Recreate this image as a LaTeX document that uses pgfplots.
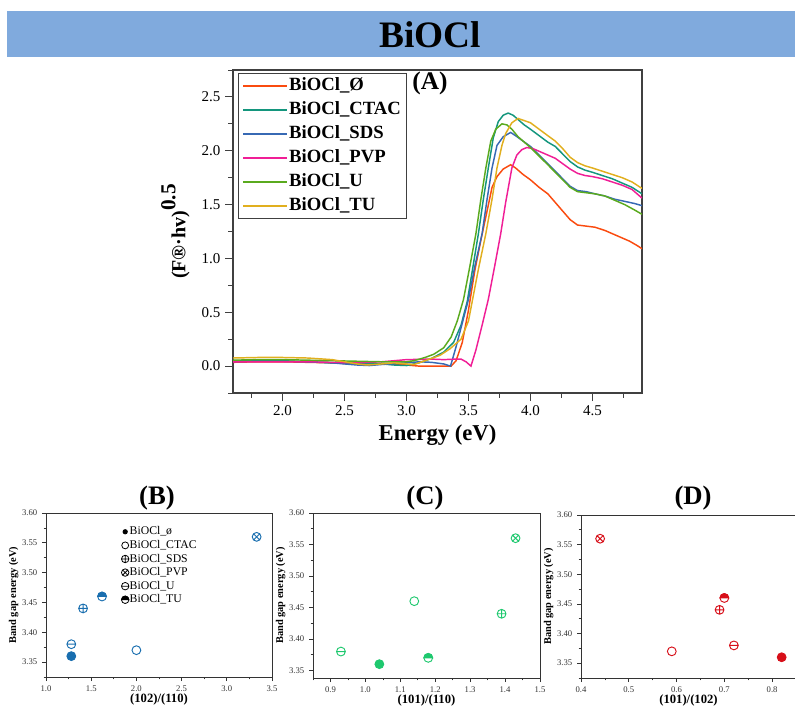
\documentclass[border=0pt]{standalone}
\usepackage{fontspec}
\setmainfont{Liberation Serif}
\usepackage{pgfplots}
\pgfplotsset{compat=1.18}
\usetikzlibrary{plotmarks}

\definecolor{banner}{RGB}{128,170,221}
\definecolor{cOr}{RGB}{250,75,15}
\definecolor{cTe}{RGB}{20,150,125}
\definecolor{cBl}{RGB}{55,105,180}
\definecolor{cPk}{RGB}{240,30,150}
\definecolor{cGr}{RGB}{90,170,30}
\definecolor{cGo}{RGB}{225,175,30}
\definecolor{bBlue}{RGB}{25,110,175}
\definecolor{cGreen}{RGB}{30,200,110}
\definecolor{dRed}{RGB}{215,15,25}

% circle with upper half filled
\pgfdeclareplotmark{tophalf}{%
  \pgfpathmoveto{\pgfqpoint{\pgfplotmarksize}{0pt}}%
  \pgfpatharc{0}{180}{\pgfplotmarksize}%
  \pgfpathclose
  \pgfusepathqfillstroke
  \pgfpathcircle{\pgfpointorigin}{\pgfplotmarksize}%
  \pgfusepathqstroke
}
% circle with horizontal bar
\pgfdeclareplotmark{ominus}{%
  \pgfpathcircle{\pgfpointorigin}{\pgfplotmarksize}%
  \pgfpathmoveto{\pgfqpoint{-\pgfplotmarksize}{0pt}}%
  \pgfpathlineto{\pgfqpoint{\pgfplotmarksize}{0pt}}%
  \pgfusepathqstroke
}

\pgfplotsset{
  small panel/.style={
    scale only axis,
    tick align=outside, tick pos=left,
    major tick length=3pt, minor tick length=1.8pt,
    axis line style={black!80, line width=0.6pt},
    every tick/.style={black!80, line width=0.5pt},
    ticklabel style={font=\fontsize{6.5}{7}\selectfont, text=black!80},
    /pgf/number format/assume math mode=true,
    ylabel={Band gap energy (eV)},
    ylabel style={font=\bfseries\fontsize{7.8}{9}\selectfont},
    ylabel shift=-4pt,
    xlabel style={font=\bfseries\fontsize{9.5}{11}\selectfont, yshift=5pt},
    ymax=3.60,
    ytick={3.35,3.40,3.45,3.50,3.55,3.60},
    minor ytick={3.325,3.375,3.425,3.475,3.525,3.575},
    yticklabel style={/pgf/number format/.cd, fixed, fixed zerofill, precision=2},
    xticklabel style={/pgf/number format/.cd, fixed, fixed zerofill, precision=1},
    every axis plot/.append style={only marks, line width=0.7pt, mark size=3.3pt},
  }
}

\begin{document}
\begin{tikzpicture}
\path[use as bounding box] (0,0) rectangle (596.25pt,-529.5pt);

\begin{scope}[x=0.75pt,y=-0.75pt]
  \fill[banner] (7,11) rectangle (800,57);
  \node[font=\bfseries\fontsize{28}{30}\selectfont] at (430,35) {BiOCl};
  \node[font=\bfseries\fontsize{19}{21}\selectfont] at (430,83) {(A)};
  \node[font=\bfseries\fontsize{20}{22}\selectfont] at (157,498) {(B)};
  \node[font=\bfseries\fontsize{20}{22}\selectfont] at (425,498) {(C)};
  \node[font=\bfseries\fontsize{20}{22}\selectfont] at (693,498) {(D)};
\end{scope}

% ---------------- panel A ----------------
\begin{axis}[
  at={(174.75pt,-294.75pt)}, anchor=south west,
  scale only axis, width=306.75pt, height=242.25pt,
  xmin=1.6, xmax=4.9, ymin=-0.25, ymax=2.75,
  xtick={2.0,2.5,3.0,3.5,4.0,4.5},
  ytick={0,0.5,1.0,1.5,2.0,2.5},
  minor xtick={1.75,2.25,2.75,3.25,3.75,4.25,4.75},
  minor ytick={-0.25,0.25,0.75,1.25,1.75,2.25,2.75},
  tick align=outside, tick pos=left,
  major tick length=6pt, minor tick length=3.5pt,
  axis line style={black!75, line width=0.8pt},
  every tick/.style={black!75, line width=0.7pt},
  ticklabel style={font=\fontsize{11.25}{13}\selectfont},
  /pgf/number format/assume math mode=true,
  xticklabel style={/pgf/number format/.cd, fixed, fixed zerofill, precision=1},
  yticklabel style={/pgf/number format/.cd, fixed, fixed zerofill, precision=1},
  xlabel={Energy (eV)},
  xlabel style={font=\bfseries\fontsize{17}{19}\selectfont},
  ylabel={(F®·hv)\raisebox{1.1ex}{\fontsize{16}{18}\selectfont 0.5}},
  ylabel style={font=\bfseries\fontsize{15}{17}\selectfont},
  ylabel shift=2pt,
  no markers,
  every axis plot/.append style={line width=1.1pt},
  legend cell align=left,
  legend style={at={(0.012,0.991)}, anchor=north west, draw=black!75, line width=0.8pt,
    font=\bfseries\fontsize{14}{16}\selectfont,
    nodes={inner sep=1pt, text height=10pt, text depth=3pt}, row sep=3pt,
    inner xsep=3pt, inner ysep=2pt},
  legend image code/.code={\draw[#1, line width=1.1pt] (0pt,0pt) -- (33pt,0pt);},
]
\addplot[cOr] coordinates {
(1.6,0.035) (1.8,0.04) (2.0,0.04) (2.2,0.035) (2.4,0.03) (2.6,0.02) (2.8,0.02)
(3.0,0.01) (3.1,0.0) (3.2,0.0) (3.3,0.0) (3.36,0.0) (3.40,0.05) (3.45,0.22)
(3.50,0.52) (3.55,0.88) (3.60,1.17) (3.65,1.44) (3.69,1.66) (3.73,1.76)
(3.78,1.83) (3.84,1.87) (3.88,1.84) (3.94,1.78) (4.0,1.73) (4.07,1.66)
(4.14,1.60) (4.2,1.52) (4.26,1.44) (4.32,1.36) (4.38,1.31) (4.45,1.30)
(4.52,1.29) (4.6,1.26) (4.66,1.23) (4.72,1.20) (4.8,1.16) (4.86,1.12) (4.9,1.09)};
\addplot[cTe] coordinates {
(1.6,0.05) (1.8,0.055) (2.0,0.05) (2.2,0.04) (2.4,0.03) (2.6,0.02) (2.8,0.02)
(2.9,0.01) (3.0,0.005) (3.1,0.03) (3.2,0.07) (3.3,0.13) (3.38,0.22) (3.44,0.38)
(3.49,0.60) (3.54,0.95) (3.58,1.23) (3.62,1.55) (3.66,1.84) (3.70,2.12)
(3.74,2.27) (3.78,2.33) (3.82,2.35) (3.86,2.33) (3.9,2.29) (3.95,2.24)
(4.0,2.20) (4.07,2.14) (4.14,2.08) (4.2,2.04) (4.26,1.97) (4.32,1.90)
(4.38,1.85) (4.44,1.82) (4.5,1.80) (4.58,1.77) (4.66,1.74) (4.74,1.70)
(4.82,1.66) (4.9,1.60)};
\addplot[cBl] coordinates {
(1.6,0.04) (1.8,0.045) (2.0,0.045) (2.2,0.04) (2.4,0.03) (2.6,0.01) (2.7,0.005)
(2.8,0.015) (3.0,0.03) (3.1,0.04) (3.2,0.035) (3.3,0.02) (3.355,0.0) (3.40,0.18)
(3.45,0.40) (3.50,0.62) (3.55,0.92) (3.61,1.23) (3.65,1.55) (3.69,1.84)
(3.73,2.05) (3.78,2.13) (3.84,2.17) (3.88,2.14) (3.94,2.09) (4.0,2.04)
(4.07,1.96) (4.14,1.88) (4.2,1.81) (4.26,1.74) (4.32,1.67) (4.38,1.63)
(4.45,1.62) (4.52,1.60) (4.6,1.58) (4.68,1.55) (4.76,1.53) (4.84,1.51) (4.9,1.49)};
\addplot[cPk] coordinates {
(1.6,0.04) (1.8,0.04) (2.0,0.04) (2.2,0.04) (2.4,0.035) (2.6,0.03) (2.8,0.04)
(3.0,0.06) (3.2,0.065) (3.3,0.06) (3.4,0.065) (3.44,0.065) (3.48,0.04) (3.52,0.0)
(3.56,0.15) (3.61,0.38) (3.66,0.62) (3.71,0.92) (3.76,1.23) (3.80,1.52)
(3.85,1.84) (3.89,1.96) (3.93,2.01) (3.97,2.03) (4.02,2.02) (4.08,1.99)
(4.14,1.96) (4.2,1.93) (4.26,1.88) (4.32,1.83) (4.38,1.79) (4.44,1.77)
(4.5,1.76) (4.58,1.74) (4.66,1.71) (4.74,1.68) (4.82,1.64) (4.9,1.56)};
\addplot[cGr] coordinates {
(1.6,0.055) (1.8,0.06) (2.0,0.06) (2.2,0.055) (2.4,0.05) (2.6,0.045) (2.8,0.04)
(3.0,0.04) (3.06,0.05) (3.15,0.08) (3.22,0.11) (3.30,0.17) (3.36,0.27)
(3.41,0.42) (3.46,0.62) (3.51,0.92) (3.56,1.23) (3.60,1.55) (3.64,1.84)
(3.68,2.09) (3.72,2.20) (3.77,2.25) (3.81,2.24) (3.85,2.20) (3.9,2.13)
(3.95,2.08) (4.0,2.03) (4.07,1.95) (4.14,1.87) (4.2,1.80) (4.26,1.73)
(4.32,1.66) (4.38,1.62) (4.45,1.61) (4.52,1.60) (4.6,1.58) (4.68,1.54)
(4.76,1.50) (4.84,1.45) (4.9,1.41)};
\addplot[cGo] coordinates {
(1.6,0.075) (1.8,0.08) (2.0,0.08) (2.2,0.075) (2.4,0.06) (2.5,0.04) (2.6,0.02)
(2.68,0.01) (2.8,0.02) (2.9,0.03) (3.0,0.02) (3.06,0.015) (3.15,0.05)
(3.27,0.10) (3.35,0.16) (3.44,0.25) (3.50,0.42) (3.53,0.60) (3.58,0.90)
(3.64,1.23) (3.69,1.55) (3.73,1.84) (3.77,2.05) (3.80,2.16) (3.85,2.26)
(3.90,2.30) (3.95,2.28) (4.0,2.26) (4.07,2.20) (4.14,2.14) (4.2,2.09)
(4.26,2.02) (4.32,1.94) (4.38,1.89) (4.44,1.86) (4.5,1.84) (4.58,1.81)
(4.66,1.78) (4.74,1.75) (4.82,1.71) (4.9,1.65)};
\legend{BiOCl\_Ø, BiOCl\_CTAC, BiOCl\_SDS, BiOCl\_PVP, BiOCl\_U, BiOCl\_TU}
\end{axis}

% ---------------- panel B ----------------
\begin{axis}[small panel,
  at={(34.5pt,-507.75pt)}, anchor=south west,
  width=169.5pt, height=123pt,
  xmin=1.0, xmax=3.5, ymin=3.325,
  xtick={1.0,1.5,2.0,2.5,3.0,3.5},
  minor xtick={1.25,1.75,2.25,2.75,3.25},
  xlabel={(102)/(110)},
  legend cell align=left,
  legend style={at={(0.315,0.94)}, anchor=north west, draw=none, fill=none,
    font=\fontsize{8.8}{9.5}\selectfont,
    nodes={inner sep=0.6pt, text height=6.3pt, text depth=1.5pt}, row sep=1.2pt},
  legend image code/.code={\draw[#1] plot coordinates {(-3pt,0pt)};},
]
\addlegendimage{only marks, mark=*, black, mark size=1.6pt}
\addlegendimage{only marks, mark=o, black, mark size=2.6pt, line width=0.6pt}
\addlegendimage{only marks, mark=oplus, black, mark size=2.8pt, line width=0.6pt}
\addlegendimage{only marks, mark=otimes, black, mark size=2.8pt, line width=0.6pt}
\addlegendimage{only marks, mark=ominus, black, mark size=2.8pt, line width=0.6pt}
\addlegendimage{only marks, mark=tophalf, black, mark size=2.8pt, line width=0.6pt}
\addplot[bBlue, mark=*] coordinates {(1.28,3.36)};
\addplot[bBlue, mark=o] coordinates {(2.00,3.37)};
\addplot[bBlue, mark=oplus] coordinates {(1.41,3.44)};
\addplot[bBlue, mark=otimes] coordinates {(3.33,3.56)};
\addplot[bBlue, mark=ominus] coordinates {(1.28,3.38)};
\addplot[bBlue, mark=tophalf] coordinates {(1.62,3.46)};
\legend{BiOCl\_ø, BiOCl\_CTAC, BiOCl\_SDS, BiOCl\_PVP, BiOCl\_U, BiOCl\_TU}
\end{axis}

% ---------------- panel C ----------------
\begin{axis}[small panel,
  at={(234.75pt,-508.5pt)}, anchor=south west,
  width=170.25pt, height=123.75pt,
  xmin=0.85, xmax=1.5, ymin=3.338,
  xtick={0.9,1.0,1.1,1.2,1.3,1.4,1.5},
  minor xtick={0.85,0.95,1.05,1.15,1.25,1.35,1.45},
  xlabel={(101)/(110)},
]
\addplot[cGreen, mark=ominus] coordinates {(0.93,3.38)};
\addplot[cGreen, mark=*] coordinates {(1.04,3.36)};
\addplot[cGreen, mark=o] coordinates {(1.14,3.46)};
\addplot[cGreen, mark=tophalf] coordinates {(1.18,3.37)};
\addplot[cGreen, mark=oplus] coordinates {(1.39,3.44)};
\addplot[cGreen, mark=otimes] coordinates {(1.43,3.56)};
\end{axis}

% ---------------- panel D ----------------
\begin{axis}[small panel,
  at={(435.75pt,-508.5pt)}, anchor=south west,
  width=161.25pt, height=122.25pt,
  xmin=0.4, xmax=0.85, ymin=3.325,
  xtick={0.4,0.5,0.6,0.7,0.8},
  minor xtick={0.45,0.55,0.65,0.75},
  xlabel={(101)/(102)},
]
\addplot[dRed, mark=otimes] coordinates {(0.44,3.56)};
\addplot[dRed, mark=tophalf] coordinates {(0.70,3.46)};
\addplot[dRed, mark=oplus] coordinates {(0.69,3.44)};
\addplot[dRed, mark=o] coordinates {(0.59,3.37)};
\addplot[dRed, mark=ominus] coordinates {(0.72,3.38)};
\addplot[dRed, mark=*] coordinates {(0.82,3.36)};
\end{axis}
\end{tikzpicture}
\end{document}
